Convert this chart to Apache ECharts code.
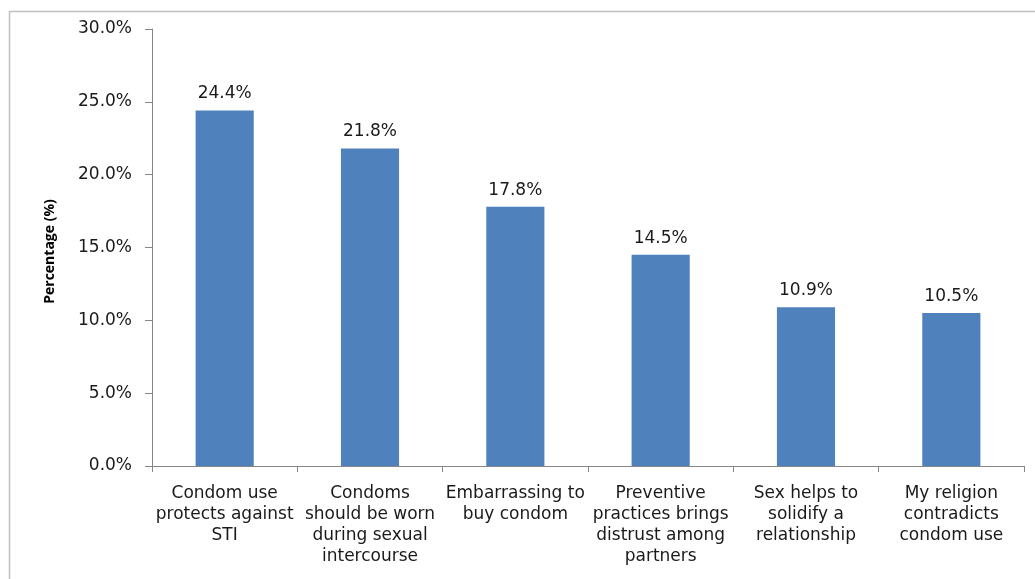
<!DOCTYPE html>
<html>
<head>
<meta charset="utf-8">
<script src="https://cdn.jsdelivr.net/npm/echarts@6/dist/echarts.min.js"></script>
<style>
  html, body { margin: 0; padding: 0; background: #fff; }
  #main { width: 1035px; height: 579px; }
</style>
</head>
<body>
<div id="main"></div>
<script>
var categories = [
    'Condom use\nprotects against\nSTI',
    'Condoms\nshould be worn\nduring sexual\nintercourse',
    'Embarrassing to\nbuy condom',
    'Preventive\npractices brings\ndistrust among\npartners',
    'Sex helps to\nsolidify a\nrelationship',
    'My religion\ncontradicts\ncondom use'
];
var values = [24.4, 21.8, 17.8, 14.5, 10.9, 10.5];
var yTicks = [0, 5, 10, 15, 20, 25, 30];

var font = 'DejaVu Sans';

function draw() {
    var myChart = echarts.init(document.getElementById('main'), null, {
        width: 1035,
        height: 579
    });
    var option = {
        animation: false,
        graphic: [
            {
                type: 'rect',
                shape: { x: 9.5, y: 11.5, width: 1040, height: 580 },
                style: { fill: 'none', stroke: '#bfbfbf', lineWidth: 1.5 }
            }
        ],
        grid: { left: 152, right: 11, top: 29, bottom: 113 },
        xAxis: {
            type: 'category',
            data: categories,
            axisLine: { lineStyle: { color: '#868686' } },
            axisTick: { show: true, length: 6, lineStyle: { color: '#868686' } },
            axisLabel: {
                interval: 0,
                color: '#1a1a1a',
                fontFamily: font,
                fontSize: 17,
                lineHeight: 21,
                margin: 17
            }
        },
        yAxis: {
            type: 'value',
            min: yTicks[0],
            max: yTicks[yTicks.length - 1],
            interval: 5,
            name: 'Percentage (%)',
            nameLocation: 'middle',
            nameGap: 95,
            nameTextStyle: {
                color: '#000',
                fontFamily: 'Open Sans',
                fontSize: 14,
                fontWeight: 'bold',
                padding: [0, 8, 0, 0]
            },
            axisLine: { show: true, lineStyle: { color: '#868686' } },
            axisTick: { show: true, length: 7, lineStyle: { color: '#868686' } },
            splitLine: { show: false },
            axisLabel: {
                color: '#1a1a1a',
                fontFamily: font,
                fontSize: 17,
                margin: 20,
                formatter: function (v) { return v.toFixed(1) + '%'; }
            }
        },
        series: [
            {
                type: 'bar',
                data: values,
                barWidth: '40%',
                itemStyle: { color: '#4f81bd' },
                label: {
                    show: true,
                    position: 'top',
                    distance: 8,
                    color: '#1a1a1a',
                    fontFamily: font,
                    fontSize: 17,
                    formatter: function (p) { return p.value.toFixed(1) + '%'; }
                }
            }
        ]
    };
    myChart.setOption(option);
}

draw();
</script>
</body>
</html>
